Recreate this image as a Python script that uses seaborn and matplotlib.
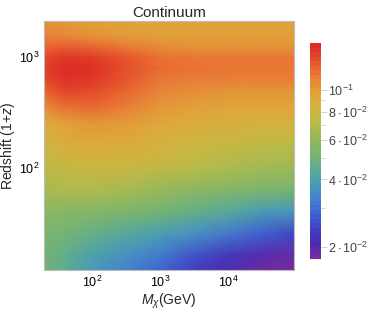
import numpy as np
import matplotlib
matplotlib.use('Agg')
import matplotlib.pyplot as plt
import matplotlib.colors as mcolors
import matplotlib.ticker as mticker
import seaborn as sns

# grid (log10 of mass in GeV, log10 of 1+z)
log_mass = [1.3, 1.6, 2.0, 2.5, 3.0, 3.5, 4.0, 4.5, 4.96]
log_redshift = [3.33, 3.2, 3.1, 3.0, 2.9, 2.8, 2.7, 2.55, 2.4, 2.2, 2.0, 1.8, 1.6, 1.4, 1.2, 1.064]

# continuum values, rows follow log_redshift (top to bottom), columns follow log_mass
row_3p33 = [0.106, 0.104, 0.0995, 0.0973, 0.0973, 0.0973, 0.0973, 0.0973, 0.0973]
row_3p2 = [0.114, 0.111, 0.106, 0.102, 0.0995, 0.0995, 0.0995, 0.0995, 0.0995]
row_3p1 = [0.126, 0.130, 0.127, 0.117, 0.109, 0.106, 0.106, 0.106, 0.106]
row_3p0 = [0.142, 0.152, 0.149, 0.135, 0.121, 0.119, 0.119, 0.119, 0.119]
row_2p9 = [0.148, 0.160, 0.157, 0.138, 0.124, 0.121, 0.119, 0.119, 0.119]
row_2p8 = [0.142, 0.156, 0.152, 0.135, 0.119, 0.116, 0.116, 0.116, 0.116]
row_2p7 = [0.129, 0.145, 0.142, 0.128, 0.114, 0.109, 0.106, 0.106, 0.106]
row_2p55 = [0.109, 0.122, 0.125, 0.116, 0.104, 0.0995, 0.0973, 0.0973, 0.0973]
row_2p4 = [0.0911, 0.0995, 0.104, 0.102, 0.0952, 0.0911, 0.0891, 0.0871, 0.0871]
row_2p2 = [0.0834, 0.0891, 0.0931, 0.0911, 0.0871, 0.0815, 0.0780, 0.0746, 0.0714]
row_2p0 = [0.0746, 0.0780, 0.0798, 0.0798, 0.0763, 0.0714, 0.0683, 0.0653, 0.0639]
row_1p8 = [0.0668, 0.0683, 0.0683, 0.0668, 0.0625, 0.0585, 0.0560, 0.0535, 0.0512]
row_1p6 = [0.0585, 0.0572, 0.0560, 0.0535, 0.0501, 0.0469, 0.0430, 0.0384, 0.0368]
row_1p4 = [0.0524, 0.0501, 0.0469, 0.0429, 0.0393, 0.0355, 0.0315, 0.0275, 0.0246]
row_1p2 = [0.0501, 0.0459, 0.0401, 0.0355, 0.0315, 0.0258, 0.0221, 0.0198, 0.0189]
row_1p064 = [0.0501, 0.0449, 0.0376, 0.0325, 0.0280, 0.0232, 0.0202, 0.0185, 0.0178]

cbar_ticks = [0.02, 0.04, 0.06, 0.08, 0.1]
cbar_labels = [r'$2\cdot10^{-2}$', r'$4\cdot10^{-2}$', r'$6\cdot10^{-2}$',
               r'$8\cdot10^{-2}$', r'$10^{-1}$']

sns.set_theme(style='white')
plt.rcParams['font.family'] = ['Liberation Sans', 'DejaVu Sans']
plt.rcParams['mathtext.fontset'] = 'custom'
plt.rcParams['mathtext.rm'] = 'Liberation Sans'
plt.rcParams['mathtext.it'] = 'Liberation Sans:italic'
plt.rcParams['mathtext.bf'] = 'Liberation Sans:bold'

# rainbow-like scheme, stops
stops = [0.0, 0.065, 0.13, 0.21, 0.29, 0.36, 0.42, 0.48, 0.55, 0.63, 0.71, 0.77, 0.84, 0.90, 1.0]
stop_colors = ['#7a2a9e', '#4a2cb0', '#4040c0', '#4065d0', '#4688cc', '#4aa0b0', '#5eac90',
               '#78b470', '#8eb860', '#b8bb48', '#d2b440', '#e0a53a', '#e88538', '#e8602f',
               '#dc2a26']
rainbow = mcolors.LinearSegmentedColormap.from_list('rainbow_mma', list(zip(stops, stop_colors)))
norm = mcolors.LogNorm(vmin=0.0177, vmax=0.162)

values = np.array([row_3p33, row_3p2, row_3p1, row_3p0, row_2p9, row_2p8, row_2p7,
                   row_2p55, row_2p4, row_2p2, row_2p0, row_1p8, row_1p6, row_1p4,
                   row_1p2, row_1p064])
X, Y = np.meshgrid(10 ** np.array(log_mass), 10 ** np.array(log_redshift))

fig = plt.figure(figsize=(3.74, 3.13), dpi=100)
ax = fig.add_axes([0.1176, 0.1358, 0.6684, 0.797])
ax.pcolormesh(X, Y, values, shading='gouraud', cmap=rainbow, norm=norm)
ax.set_xscale('log')
ax.set_yscale('log')
ax.set_xlim(10 ** log_mass[0], 10 ** log_mass[-1])
ax.set_ylim(10 ** log_redshift[-1], 10 ** log_redshift[0])

for s in ax.spines.values():
    s.set_color('#bbbbbb')
    s.set_linewidth(0.8)
ax.tick_params(which='both', direction='in', colors='#555555', labelcolor='black',
               labelsize=9, top=False, right=False, bottom=True, left=True)
ax.tick_params(which='major', length=4, width=0.7, pad=3)
ax.tick_params(which='minor', length=2, width=0.5)
ax.xaxis.set_major_locator(mticker.LogLocator(base=10, numticks=10))
ax.xaxis.set_minor_locator(mticker.LogLocator(base=10, subs=np.arange(2, 10), numticks=10))
ax.yaxis.set_minor_locator(mticker.LogLocator(base=10, subs=np.arange(2, 10), numticks=10))
ax.xaxis.set_minor_formatter(mticker.NullFormatter())
ax.yaxis.set_minor_formatter(mticker.NullFormatter())

ax.set_title('Continuum', fontsize=11, pad=3)
ax.set_xlabel(r'$M_\chi$(GeV)', fontsize=10, labelpad=1)
ax.set_ylabel(r'Redshift (1+$z$)', fontsize=10, labelpad=2)

# legend bar, banded like the original
cax = fig.add_axes([0.829, 0.1725, 0.029, 0.690])
sm = plt.cm.ScalarMappable(norm=norm, cmap=rainbow.resampled(48))
cb = fig.colorbar(sm, cax=cax)
cb.outline.set_visible(False)
cb.set_ticks(cbar_ticks)
cb.set_ticklabels(cbar_labels)
cb.ax.yaxis.set_minor_locator(mticker.FixedLocator([0.03, 0.05, 0.07, 0.09]))
cb.ax.yaxis.set_minor_formatter(mticker.NullFormatter())
cb.ax.tick_params(which='both', colors='#cccccc', labelcolor='#444444', labelsize=9,
                  direction='out', width=0.6)
cb.ax.tick_params(which='major', length=4, pad=1)
cb.ax.tick_params(which='minor', length=3)

fig.savefig('out.png', dpi=100)
